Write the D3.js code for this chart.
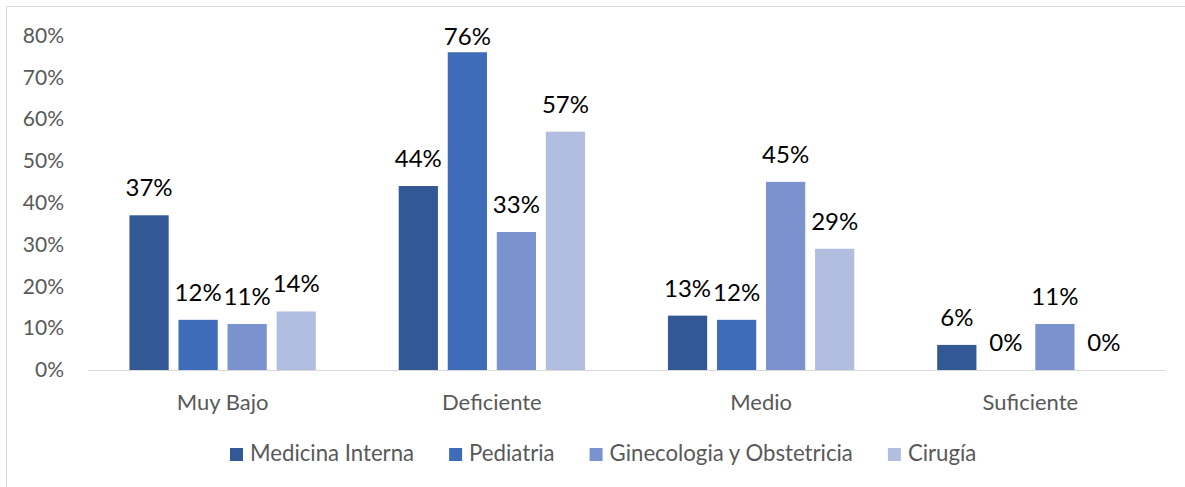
<!DOCTYPE html>
<html>
<head>
<meta charset="utf-8">
<script src="https://cdn.jsdelivr.net/npm/d3@7"></script>
<style>
  html, body { margin: 0; padding: 0; background: #fff; }
  svg { display: block; font-family: Lato, "Open Sans", sans-serif; }
</style>
</head>
<body>
<svg id="chart" width="1185" height="487"></svg>
<script>
const categories = ["Muy Bajo", "Deficiente", "Medio", "Suficiente"];
const seriesNames = ["Medicina Interna", "Pediatria", "Ginecologia y Obstetricia", "Cirugía"];
const medicinaInterna = [0.37, 0.44, 0.13, 0.06];
const pediatria = [0.12, 0.76, 0.12, 0.00];
const ginecologia = [0.11, 0.33, 0.45, 0.11];
const cirugia = [0.14, 0.57, 0.29, 0.00];
const colors = ["#325896", "#3F6CB9", "#7A93CF", "#B2BEDF"];
const yTicks = [0, 0.1, 0.2, 0.3, 0.4, 0.5, 0.6, 0.7, 0.8];

const seriesValues = [medicinaInterna, pediatria, ginecologia, cirugia];

const svg = d3.select("#chart");
const W = 1185, H = 487;

// outer border
svg.append("rect").attr("x", 6.5).attr("y", 6.5).attr("width", W).attr("height", H)
  .attr("fill", "none").attr("stroke", "#d9d9d9").attr("stroke-width", 1);

const plot = { left: 88, right: 1165, top: 35.5, bottom: 370 };

const y = d3.scaleLinear().domain([0, 0.8]).range([plot.bottom, plot.top]);
const x0 = d3.scaleBand().domain(categories).range([plot.left, plot.right]).padding(0);
const x1 = d3.scaleBand().domain(seriesNames).range([0, x0.bandwidth()])
  .paddingInner(0.2).paddingOuter(0.845);
const color = d3.scaleOrdinal().domain(seriesNames).range(colors);

// y axis
const yAxis = svg.append("g")
  .attr("transform", `translate(${plot.left},0)`)
  .call(d3.axisLeft(y).tickValues(yTicks).tickFormat(d3.format(".0%")).tickSize(0).tickPadding(24));
yAxis.select(".domain").remove();
yAxis.selectAll("text").attr("fill", "#595959").style("font-size", "21px")
  .style("font-family", "Lato, sans-serif");

// bars
const rows = categories.map((c, i) => ({
  category: c,
  values: seriesNames.map((s, j) => ({ series: s, value: seriesValues[j][i] }))
}));

const groups = svg.append("g").selectAll("g").data(rows).join("g")
  .attr("transform", d => `translate(${x0(d.category)},0)`);

groups.selectAll("rect").data(d => d.values).join("rect")
  .attr("x", d => x1(d.series))
  .attr("y", d => y(d.value))
  .attr("width", x1.bandwidth())
  .attr("height", d => y(0) - y(d.value))
  .attr("fill", d => color(d.series));

groups.selectAll("text").data(d => d.values).join("text")
  .attr("x", d => x1(d.series) + x1.bandwidth() / 2)
  .attr("y", d => Math.max(y(d.value) - 19, 45))
  .attr("text-anchor", "middle")
  .attr("fill", "#000")
  .style("font-size", "24px")
  .text(d => d3.format(".0%")(d.value));

// x baseline
svg.append("line").attr("x1", plot.left).attr("x2", plot.right)
  .attr("y1", plot.bottom + 0.5).attr("y2", plot.bottom + 0.5)
  .attr("stroke", "#d9d9d9").attr("stroke-width", 1);

// x axis labels
const xAxis = svg.append("g")
  .attr("transform", `translate(0,${plot.bottom})`)
  .call(d3.axisBottom(x0).tickSize(0).tickPadding(24));
xAxis.select(".domain").remove();
xAxis.selectAll("text").attr("fill", "#595959").style("font-size", "22px")
  .style("font-family", "Lato, sans-serif");

// legend
const legend = svg.append("g");
let lx = 230;
seriesNames.forEach((s, i) => {
  const g = legend.append("g").attr("transform", `translate(${lx},0)`);
  g.append("rect").attr("x", 0).attr("y", 448).attr("width", 13).attr("height", 13)
    .attr("fill", colors[i]);
  const t = g.append("text").attr("x", 20).attr("y", 461)
    .attr("fill", "#595959").style("font-size", "22.2px").text(s);
  lx += 20 + t.node().getComputedTextLength() + 35;
});
</script>
</body>
</html>
